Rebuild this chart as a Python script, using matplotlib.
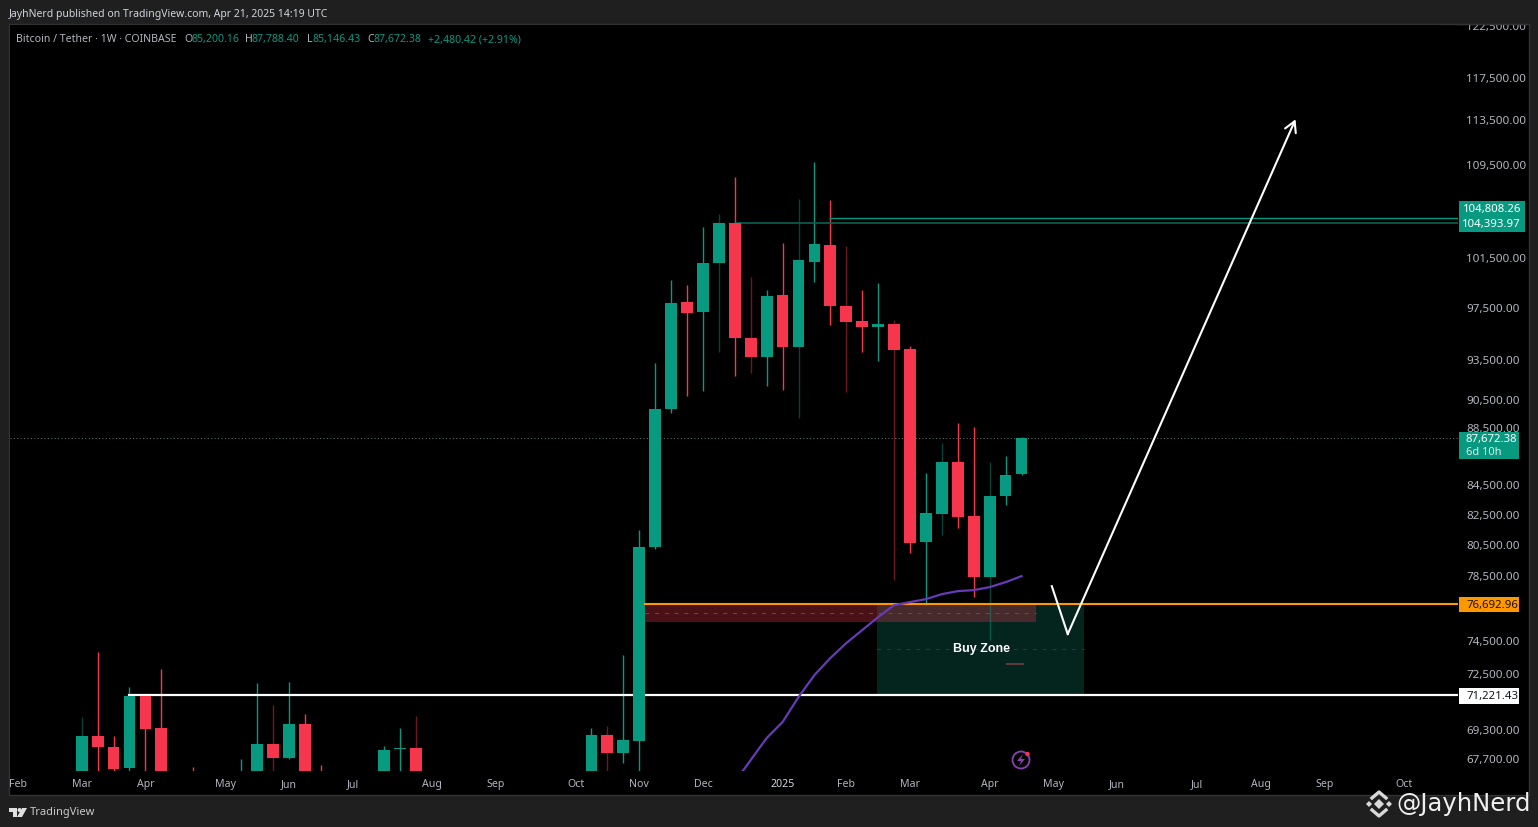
import matplotlib
matplotlib.use('Agg')
import matplotlib.pyplot as plt
from matplotlib.lines import Line2D
from matplotlib.patches import Circle, Polygon, Rectangle
from matplotlib.ticker import NullLocator
from matplotlib.transforms import Affine2D

plt.rcParams['font.family'] = ['Noto Sans', 'DejaVu Sans']

W, H = 1538, 828

###############data section################
# weekly candles, index 0 is the March 2024 candle. weeks below the pane are left out
weeks = [0, 1, 2, 3, 4, 5, 7, 10, 11, 12, 13, 14, 15, 19, 20, 21, 32, 33, 34, 35, 36, 37, 38, 39, 40,
         41, 42, 43, 44, 45, 46, 47, 48, 49, 50, 51, 52, 53, 54, 55, 56, 57, 58, 59]
opens = [66400, 68913, 68303, 67153, 71178, 69360, 66000, 65500, 66300, 68468, 67698, 69585, 66000,
         66400, 68192, 68247, 66400, 68969, 67972, 68635, 80289, 89768, 97880, 97091, 101015,
         104394, 95072, 93623, 98436, 94382, 101097, 102495, 97564, 96388, 95921, 96154, 94229,
         80614, 82459, 86002, 82326, 78365, 83667, 85200.16]
highs = [69979, 73755, 68913, 71697, 71235, 72748, 67207, 67644, 71930, 70661, 71988, 70149, 67316,
         68358, 69360, 70036, 69360, 69472, 73576, 81400, 93169, 99635, 99234, 103998, 105097,
         108288, 99877, 98834, 102661, 106379, 109609, 106293, 102413, 98834, 99394, 96466, 94500,
         85240, 87333, 88757, 88472, 86002, 86420, 87788.40]
lows = [65500, 65500, 66500, 66500, 65500, 65000, 65000, 65000, 65500, 65800, 67644, 66000, 65000,
        65800, 65800, 65800, 65800, 65800, 67425, 66000, 80159, 89479, 90717, 91084, 94001,
        92195, 92418, 91453, 91158, 89117, 99475, 96076, 91010, 94001, 93320, 78175, 79901,
        76611, 81072, 81532, 77108, 74474, 83061, 85146.43]
closes = [68913, 68303, 67098, 71178, 69304, 66400, 65500, 66000, 68468, 67698, 69585, 66400, 65500,
          68137, 68247, 66400, 68969, 67972, 68690, 80289, 89768, 97801, 97014, 101015, 104334,
          95072, 93623, 98356, 94382, 101259, 102578, 97564, 96310, 95921, 96154, 94154, 80549,
          82525, 86002, 82259, 78365, 83667, 85103, 87672.38]
# wicks that came out faint in the screenshot
dim_wicks = [0, 12, 21, 33, 40, 42, 45, 48, 51, 54, 57]

# purple moving average
ma_weeks = [41, 42, 43, 44, 45, 46, 47, 48, 49, 50, 51, 52, 53, 54, 55, 56, 57, 58, 59]
ma_values = [66397, 67590, 68801, 69697, 71121, 72398, 73400, 74295, 75080, 75873, 76611, 76798,
             76985, 77296, 77484, 77546, 77735, 78049, 78429]

price_ticks = [122500, 117500, 113500, 109500, 101500, 97500, 93500, 90500, 88500,
               84500, 82500, 80500, 78500, 74500, 72500, 69300, 67700]
month_weeks = [-4, 0, 4, 9, 13, 17, 22, 26, 31, 35, 39, 44, 48, 52, 57, 61, 65, 70, 74, 78, 83]
month_labels = ['Feb', 'Mar', 'Apr', 'May', 'Jun', 'Jul', 'Aug', 'Sep', 'Oct', 'Nov', 'Dec', '2025',
                'Feb', 'Mar', 'Apr', 'May', 'Jun', 'Jul', 'Aug', 'Sep', 'Oct']

last_price = 87672.38
level_high = 104808.26
level_low = 104393.97
level_orange = 76692.96
level_white = 71221.43
red_box_low = 75568
path_weeks = [60.9, 61.9, 76.2]
path_prices = [77798, 74837, 113500]

GREEN = '#089981'
RED = '#f5364c'
ORANGE = '#ff9800'
PURPLE = '#673ab7'
TEXT = '#b2b5be'

#########plotting the data##########
fig = plt.figure(figsize=(W / 100, H / 100), dpi=100, facecolor='#1f1f1f')
# pixel coordinates with the origin top left, same as the screenshot
px = Affine2D().scale(1, -1).translate(0, H - 1)

fig.add_artist(Rectangle((9, 24), 1520, 771, transform=px, fc='#000000', ec='#333333', lw=1, zorder=-1))

ax = fig.add_axes([10 / W, (H - 772) / H, 1448 / W, 746 / H], facecolor='#000000')
ax.set_yscale('log')
ax.set_xlim(-4.5, 86.4)
ax.set_ylim(66990, 122445)
for s in ax.spines.values():
    s.set_visible(False)

# zones go under the candles
ax.add_patch(Rectangle((49.9, level_white), 13, level_orange - level_white, fc='#04241e', ec='none', zorder=1))
ax.add_patch(Rectangle((35.34, red_box_low), 14.56, level_orange - red_box_low, fc='#4a1117', ec='none', zorder=1))
ax.add_patch(Rectangle((49.9, red_box_low), 10, level_orange - red_box_low, fc='#472a2c', ec='none', zorder=1))
ax.plot([35.34, 59.9], [76130, 76130], color='#6b4a4c', lw=0.7, ls=(0, (4, 6)), zorder=1.1)
ax.plot([49.9, 62.9], [73950, 73950], color='#12463c', lw=0.7, ls=(0, (4, 6)), zorder=1.1)
ax.plot([58.1, 59.1], [73050, 73050], color='#5c3a3e', lw=1.5, zorder=1.1)

ax.axhline(last_price, color='#5f7f78', lw=0.7, ls=(0, (1, 2.5)), zorder=1.2)

# candles
for w, o, h, l, c in zip(weeks, opens, highs, lows, closes):
    col = GREEN if c >= o else RED
    ax.vlines(w, l, h, color=col, lw=1, alpha=0.45 if w in dim_wicks else 1, zorder=2)
    ax.bar(w, abs(c - o), bottom=min(o, c), width=0.74, color=col, lw=0, zorder=3)

# horizontal levels
ax.plot([47, 86.4], [level_high, level_high], color=GREEN, lw=1, zorder=2.5)
ax.plot([41, 86.4], [level_low, level_low], color='#0b5f50', lw=1.2, zorder=2.5)
ax.plot([35.34, 86.4], [level_orange, level_orange], color=ORANGE, lw=1.5, zorder=3.5)
ax.plot([3, 86.4], [level_white, level_white], color='white', lw=1.6, zorder=2.5)

ax.plot(ma_weeks, ma_values, color=PURPLE, lw=1.6, zorder=4)

ax.text(56.5, 74020, 'Buy Zone', color='white', fontsize=9, family='Liberation Sans', fontweight='bold',
        ha='center', va='center', zorder=5)

# the white projection with its arrow head
ax.plot(path_weeks[:2], path_prices[:2], color='white', lw=1.5, zorder=5)
ax.annotate('', xy=(path_weeks[2], path_prices[2]), xytext=(path_weeks[1], path_prices[1]), zorder=5,
            arrowprops=dict(arrowstyle='->,head_length=0.75,head_width=0.42', color='white', lw=1.5,
                            shrinkA=0, shrinkB=0))

ax.yaxis.tick_right()
ax.set_yticks(price_ticks, [f'{p:,.2f}' for p in price_ticks])
ax.yaxis.set_minor_locator(NullLocator())
ax.tick_params(axis='y', length=0, pad=6, labelsize=8.4, labelcolor=TEXT)
ax.set_xticks(month_weeks, month_labels)
ax.tick_params(axis='x', length=0, pad=5, labelsize=7.6, labelcolor=TEXT)
for lab in ax.get_xticklabels():
    if lab.get_text() == '2025':
        lab.set_fontweight('bold')
        lab.set_color('#d1d4dc')

# hides the top of the clipped 122,500 label
fig.add_artist(Rectangle((1440, 0), 98, 24, transform=px, fc='#1f1f1f', ec='none', zorder=2))
fig.add_artist(Line2D([1440, 1529], [24, 24], transform=px, color='#333333', lw=1, zorder=2.1))


def txt(x, y, s, color=TEXT, size=7.6, **kw):
    kw.setdefault('va', 'center')
    fig.text(x / W, 1 - (y + 1.5) / H, s, color=color, fontsize=size, zorder=6, **kw)


# price tags on the scale
fig.add_artist(Rectangle((1459, 201), 66, 30.5, transform=px, fc=GREEN, ec='none', zorder=5))
txt(1521, 208, f'{level_high:,.2f}', 'white', 8.2, ha='right')
txt(1521, 223, f'{level_low:,.2f}', 'white', 8.2, ha='right')
fig.add_artist(Rectangle((1459, 432), 60, 27, transform=px, fc=GREEN, ec='none', zorder=5))
txt(1466, 438.5, f'{last_price:,.2f}', 'white', 8.2)
txt(1466, 451.5, '6d 10h', '#d5efe9', 8)
fig.add_artist(Rectangle((1459, 597), 60, 15, transform=px, fc=ORANGE, ec='none', zorder=5))
txt(1466, 604, f'{level_orange:,.2f}', '#1a1200', 8.2)
fig.add_artist(Rectangle((1459, 688), 60, 16, transform=px, fc='white', ec='none', zorder=5))
txt(1466, 695.5, f'{level_white:,.2f}', '#131722', 8.2)

# header
txt(9, 13, 'JayhNerd published on TradingView.com, Apr 21, 2025 14:19 UTC', '#d1d4dc', 7.5)
txt(16, 38, 'Bitcoin / Tether · 1W · COINBASE', TEXT, 7.6)
for x, s, col in [(184, 'O', TEXT), (191, '85,200.16', GREEN), (245.5, 'H', TEXT), (252, '87,788.40', GREEN),
                  (307, 'L', TEXT), (312.5, '85,146.43', GREEN), (367, 'C', TEXT), (373, '87,672.38', GREEN),
                  (428, '+2,480.42 (+2.91%)', GREEN)]:
    txt(x, 38, s, col, 7.6)

# purple bolt badge
fig.add_artist(Circle((1021, 760), 8.5, transform=px, fc='none', ec='#8e3fb8', lw=1.3, zorder=5))
fig.add_artist(Polygon([(1023, 754), (1017, 761), (1021, 761), (1019, 766), (1025, 759), (1021, 759)],
                       transform=px, fc='#8e3fb8', ec='none', zorder=5))
fig.add_artist(Circle((1027.5, 754), 2.2, transform=px, fc=RED, ec='none', zorder=6))

# tradingview logo and name
fig.add_artist(Polygon([(9, 808), (17, 808), (17, 817), (13, 817), (13, 812), (9, 812)], transform=px,
                       fc='#e0e0e0', ec='none', zorder=5))
fig.add_artist(Circle((19.5, 810), 2, transform=px, fc='#e0e0e0', ec='none', zorder=5))
fig.add_artist(Polygon([(22, 808), (27, 808), (22, 817), (17, 817)], transform=px, fc='#e0e0e0', ec='none', zorder=5))
txt(30, 811, 'TradingView', '#c8c8c8', 8)

# watermark, binance style mark and handle
LOGO = '#d9d9d9'
fig.add_artist(Polygon([(1379, 799), (1384, 804), (1379, 809), (1374, 804)], transform=px, fc=LOGO, ec='none', zorder=6))
for cx in (1369, 1389):
    fig.add_artist(Polygon([(cx, 801), (cx + 3, 804), (cx, 807), (cx - 3, 804)], transform=px, fc=LOGO, ec='none', zorder=6))
fig.add_artist(Line2D([1372, 1379, 1386], [798, 792, 798], transform=px, color=LOGO, lw=2.4, zorder=6))
fig.add_artist(Line2D([1372, 1379, 1386], [810, 816, 810], transform=px, color=LOGO, lw=2.4, zorder=6))
txt(1396, 803, '@JayhNerd', '#f0f0f0', 17.5, family='DejaVu Sans')

fig.savefig('out.png', dpi=100, facecolor=fig.get_facecolor())
